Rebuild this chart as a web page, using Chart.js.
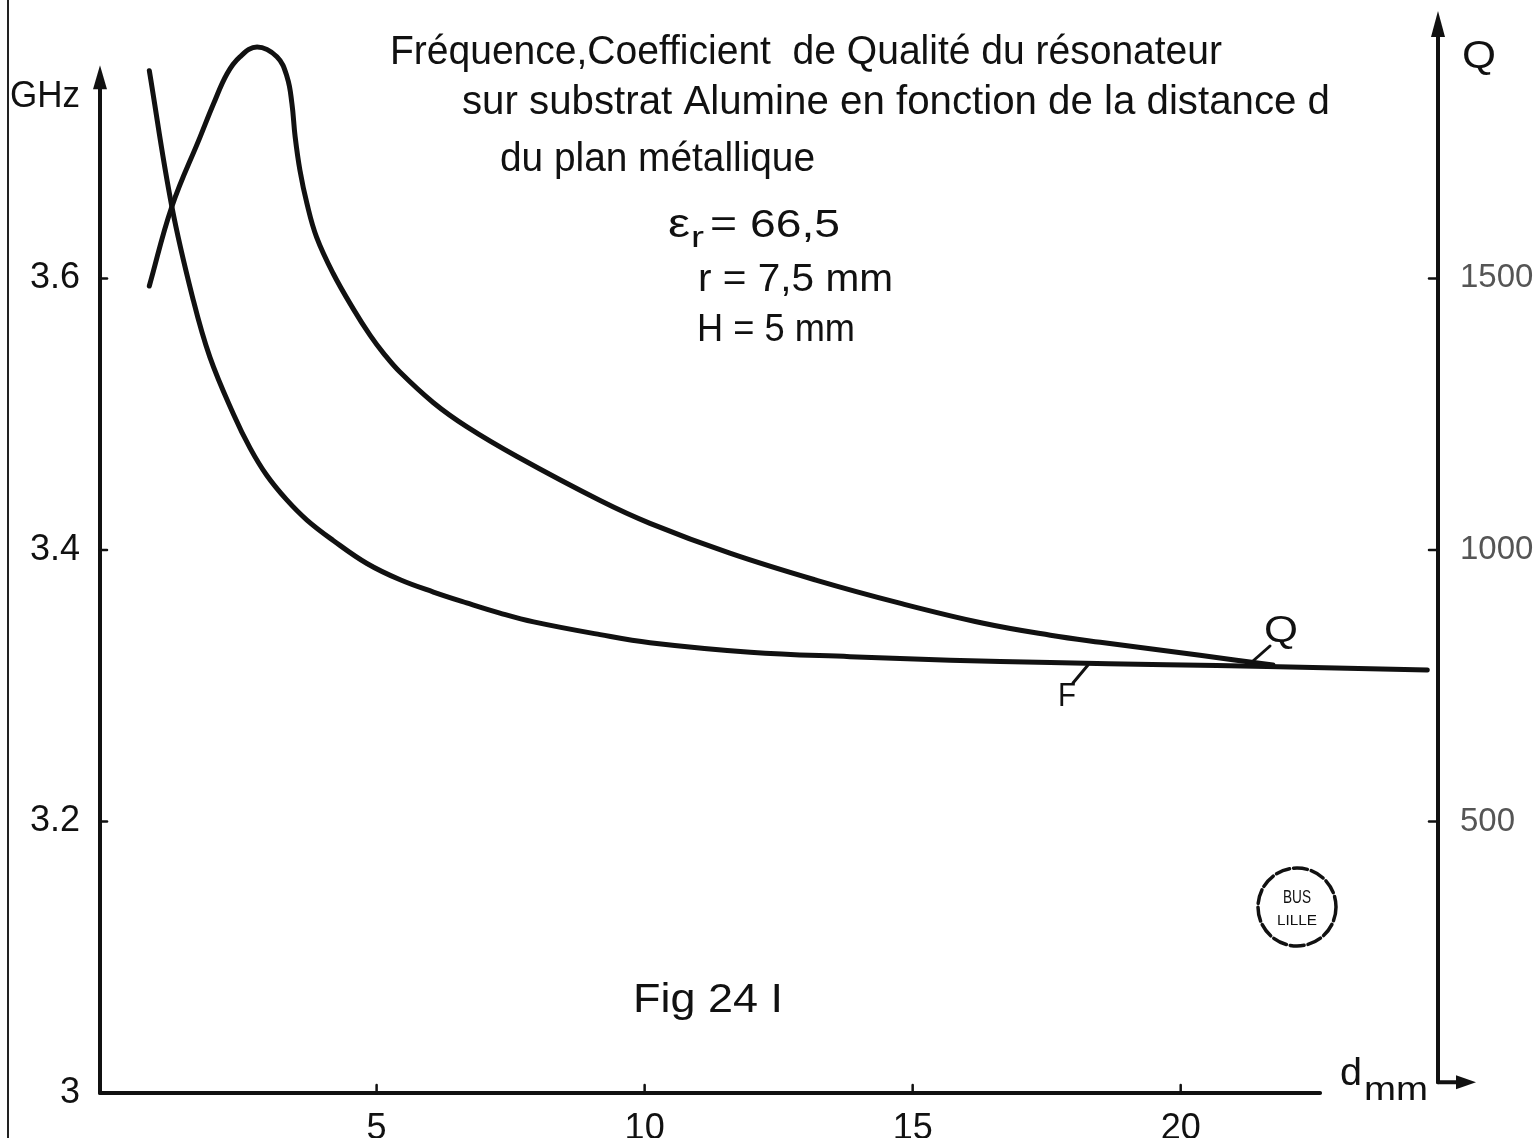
<!DOCTYPE html>
<html><head><meta charset="utf-8">
<script src="https://cdn.jsdelivr.net/npm/chart.js@4.4.0/dist/chart.umd.min.js"></script>
<style>html,body{margin:0;padding:0;background:#fff;}#wrap{width:1537px;height:1138px;position:relative;}</style>
</head><body><div id="wrap"><canvas id="c" width="1537" height="1138"></canvas></div>
<script>
// ---- data ----
const dF   = [0.76,1.18,1.58,1.89,2.33,2.64,2.95,3.32,3.70,4.19,4.82,5.44,6.06,6.68,7.30,7.93,9.17,10.10,11.97,13.83,15.70,17.57,19.74,21.61,24.60];
const fGHz = [3.753,3.653,3.584,3.542,3.500,3.475,3.455,3.437,3.422,3.407,3.390,3.378,3.369,3.361,3.3535,3.347,3.3376,3.3317,3.3247,3.3214,3.3188,3.317,3.3155,3.3141,3.3115];
const dQ   = [0.76,1.18,1.71,1.96,2.21,2.45,2.77,3.14,3.33,3.42,3.48,3.57,3.70,3.88,4.19,4.57,4.88,5.13,5.44,6.06,6.68,7.62,9.17,10.10,11.59,13.21,14.76,16.32,17.57,18.50,20.36,21.72];
const qVal = [1486,1632,1761,1822,1877,1908,1926,1908,1871,1822,1761,1699,1638,1576,1509,1443,1395,1362,1327,1271,1227,1172,1091,1049,994,944,902,865,843,830,806,788];
const xTicks = [5,10,15,20];
const yTicks = [3,3.2,3.4,3.6];
const yTickLabels = ['3','3.2','3.4','3.6'];
const qTicks = [500,1000,1500];
const qTickLabels = ['500','1000','1500'];
const titleLines = ['Fréquence,Coefficient  de Qualité du résonateur','sur substrat Alumine en fonction de la distance d','du plan métallique'];
const paramLines = ['= 66,5','r = 7,5 mm','H = 5 mm'];
const figLabel = 'Fig 24 I';

const INK = '#111';
const FONT = '"Liberation Sans", Arial, sans-serif';

function txt(ctx, s, x, yb, size, width, color){
  ctx.save();
  ctx.font = size + 'px ' + FONT;
  ctx.fillStyle = color || INK;
  ctx.textBaseline = 'alphabetic';
  ctx.textAlign = 'left';
  const w = ctx.measureText(s).width;
  ctx.translate(x, yb);
  if (width) ctx.scale(width / w, 1);
  ctx.fillText(s, 0, 0);
  ctx.restore();
}
function line(ctx, x1, y1, x2, y2, w){
  ctx.beginPath(); ctx.moveTo(x1,y1); ctx.lineTo(x2,y2);
  ctx.lineWidth = w; ctx.strokeStyle = INK; ctx.lineCap='round'; ctx.stroke();
}
function tri(ctx, pts){
  ctx.beginPath(); ctx.moveTo(pts[0][0],pts[0][1]);
  for (let i=1;i<pts.length;i++) ctx.lineTo(pts[i][0],pts[i][1]);
  ctx.closePath(); ctx.fillStyle = INK; ctx.fill();
}

const decor = {
  id: 'decor',
  afterDraw(chart){
    const {ctx, chartArea:a, scales} = chart;
    const x = scales.x, y = scales.y, q = scales.yQ;
    ctx.save();
    // page edge
    ctx.beginPath(); ctx.moveTo(8,0); ctx.lineTo(8,1138); ctx.lineWidth=2; ctx.strokeStyle='#222'; ctx.stroke();
    // left axis with arrow
    const ltip = y.getPixelForValue(3.757);
    line(ctx, a.left, a.bottom, a.left, ltip+18, 4);
    tri(ctx, [[a.left, ltip],[a.left-7, ltip+24],[a.left+7, ltip+24]]);
    // x axis
    line(ctx, a.left, a.bottom, x.getPixelForValue(22.6), a.bottom, 4);
    // right axis with arrows
    const rb = q.getPixelForValue(20);
    line(ctx, a.right, rb, a.right, a.top+10, 4);
    tri(ctx, [[a.right, a.top-4],[a.right-7, a.top+22],[a.right+7, a.top+22]]);
    line(ctx, a.right, rb, a.right+22, rb, 4);
    tri(ctx, [[a.right+38, rb],[a.right+18, rb-7],[a.right+18, rb+7]]);
    // tick marks
    yTicks.slice(1).forEach(v=>{ const p=y.getPixelForValue(v); line(ctx,a.left,p,a.left+7,p,2.5); });
    xTicks.forEach(v=>{ const p=x.getPixelForValue(v); line(ctx,p,a.bottom,p,a.bottom-8,2.5); });
    qTicks.forEach(v=>{ const p=q.getPixelForValue(v); line(ctx,a.right-9,p,a.right,p,2.5); });
    // axis titles
    txt(ctx, 'GHz', 10, 107, 36, 70);
    txt(ctx, 'Q', 1462, 68, 38, 34);
    txt(ctx, 'd', 1340, 1085, 38, 22);
    txt(ctx, 'mm', 1364, 1100, 34, 64);
    // title
    txt(ctx, titleLines[0], 390, 64, 40, 832);
    txt(ctx, titleLines[1], 462, 114, 40, 868);
    txt(ctx, titleLines[2], 500, 171, 40, 315);
    // parameters
    txt(ctx, 'ε', 668, 237, 40, 22);
    txt(ctx, 'r', 691, 247, 30, 13);
    txt(ctx, paramLines[0], 710, 237, 38, 130);
    txt(ctx, paramLines[1], 698, 291, 38, 195);
    txt(ctx, paramLines[2], 697, 341, 38, 158);
    // figure label
    txt(ctx, figLabel, 633, 1012, 40, 150);
    // curve labels with leaders
    txt(ctx, 'Q', 1264, 642, 36, 34);
    line(ctx, 1270, 646, 1253, 661, 3);
    txt(ctx, 'F', 1058, 706, 34, 18);
    line(ctx, 1073, 683, 1088, 665, 3);
    // stamp
    ctx.beginPath(); ctx.arc(1297, 907, 39, 0, Math.PI*2);
    ctx.setLineDash([14,4]); ctx.lineWidth=3.5; ctx.strokeStyle=INK; ctx.stroke(); ctx.setLineDash([]);
    txt(ctx, 'BUS', 1283, 903, 18, 28);
    txt(ctx, 'LILLE', 1277, 925, 14, 40);
    ctx.restore();
  }
};

const tickFont = {family: FONT, size: 36};
new Chart(document.getElementById('c'), {
  type: 'line',
  data: {
    datasets: [
      { label: 'F', yAxisID: 'y', data: dF.map((d,i)=>({x:d, y:fGHz[i]})),
        borderColor: INK, borderWidth: 5, pointRadius: 0, tension: 0.4, fill: false, borderCapStyle: 'round', borderJoinStyle: 'round' },
      { label: 'Q', yAxisID: 'yQ', data: dQ.map((d,i)=>({x:d, y:qVal[i]})),
        borderColor: INK, borderWidth: 5, pointRadius: 0, tension: 0.4, fill: false, borderCapStyle: 'round', borderJoinStyle: 'round' }
    ]
  },
  options: {
    responsive: false, animation: false,
    layout: { padding: { top: 15, left: 0, right: 0, bottom: 0 } },
    plugins: { legend: { display: false }, tooltip: { enabled: false }, title: { display: false } },
    scales: {
      x: { type: 'linear', min: -0.16, max: 24.8,
           grid: { display: false }, border: { display: false },
           afterBuildTicks: s => { s.ticks = xTicks.map(v=>({value:v})); },
           afterFit: s => { s.height = 45; s.paddingLeft = 0; s.paddingRight = 0; },
           ticks: { color: INK, font: tickFont, padding: 6, maxRotation: 0, callback: v => String(v) } },
      y: { type: 'linear', position: 'left', min: 3, max: 3.794,
           grid: { display: false }, border: { display: false },
           afterBuildTicks: s => { s.ticks = yTicks.map(v=>({value:v})); },
           afterFit: s => { s.width = 100; s.paddingTop = 0; s.paddingBottom = 0; },
           ticks: { color: INK, font: tickFont, padding: 12, callback: v => yTickLabels[yTicks.indexOf(v)] } },
      yQ: { type: 'linear', position: 'right', min: 0, max: 1985,
           grid: { display: false }, border: { display: false },
           afterBuildTicks: s => { s.ticks = qTicks.map(v=>({value:v})); },
           afterFit: s => { s.width = 99; s.paddingTop = 0; s.paddingBottom = 0; },
           ticks: { color: '#555', font: {family: FONT, size: 33}, padding: 14, callback: v => qTickLabels[qTicks.indexOf(v)] } }
    }
  },
  plugins: [decor]
});
</script></body></html>
